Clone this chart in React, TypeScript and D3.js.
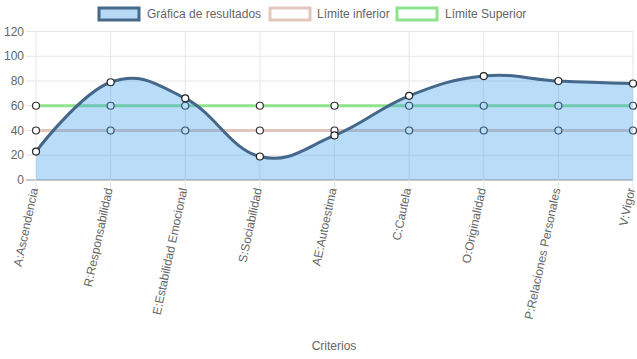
import React from "react";
import * as d3 from "d3";

const categories = [
  "A:Ascendencia",
  "R:Responsabilidad",
  "E:Estabilidad Emocional",
  "S:Sociabilidad",
  "AE:Autoestima",
  "C:Cautela",
  "O:Originalidad",
  "P:Relaciones Personales",
  "V:Vigor",
];
const resultados = [23, 79, 66, 19, 36, 68, 84, 80, 78];
const limiteInferior = [40, 40, 40, 40, 40, 40, 40, 40, 40];
const limiteSuperior = [60, 60, 60, 60, 60, 60, 60, 60, 60];
const yTicks = [0, 20, 40, 60, 80, 100, 120];

const W = 637;
const H = 359;
const font = "'Liberation Sans', Arial, Helvetica, sans-serif";
const grey = "#666";

const x = d3.scalePoint().domain(categories).range([36, 633]);
const y = d3.scaleLinear().domain([0, 120]).range([180, 31.5]);

const line = d3
  .line<number>()
  .x((d, i) => x(categories[i]))
  .y((d) => y(d))
  .curve(d3.curveCardinal.tension(-0.2));

const area = d3
  .area<number>()
  .x((d, i) => x(categories[i]))
  .y0(y(0))
  .y1((d) => y(d))
  .curve(d3.curveCardinal.tension(-0.2));

const straight = d3
  .line<number>()
  .x((d, i) => x(categories[i]))
  .y((d) => y(d));

const legend = [
  { label: "Gráfica de resultados", fill: "#b8d9f5", stroke: "#46698a", bx: 99, tx: 147 },
  { label: "Límite inferior", fill: "#fff", stroke: "#e3c7bd", bx: 270, tx: 317 },
  { label: "Límite Superior", fill: "#fff", stroke: "#8ee38c", bx: 397, tx: 445 },
];

export default function App() {
  return (
    <svg width={W} height={H} style={{ position: "absolute", left: 0, top: 0 }}>
      {/* grid */}
      {yTicks.map((t) => (
        <g key={"y" + t}>
          <line
            x1={26}
            x2={633}
            y1={y(t)}
            y2={y(t)}
            stroke={t === 0 ? "#c8c8c8" : "#e6e6e6"}
            strokeWidth={t === 0 ? 2 : 1}
          />
          <text x={24} y={y(t)} dy="0.35em" textAnchor="end" fontSize={12} fill={grey} fontFamily={font}>
            {t}
          </text>
        </g>
      ))}
      {categories.map((c) => (
        <line key={"x" + c} x1={x(c)} x2={x(c)} y1={31.5} y2={190} stroke="#e6e6e6" strokeWidth={1} />
      ))}

      {/* limit lines, drawn beneath the result fill */}
      <path d={straight(limiteInferior)} fill="none" stroke="#e3c7bd" strokeWidth={3} />
      <path d={straight(limiteSuperior)} fill="none" stroke="#8ee38c" strokeWidth={3} />
      {limiteInferior.map((v, i) => (
        <circle key={"li" + i} cx={x(categories[i])} cy={y(v)} r={3.5} fill="#fff" stroke="#333" strokeWidth={1.2} />
      ))}
      {limiteSuperior.map((v, i) => (
        <circle key={"ls" + i} cx={x(categories[i])} cy={y(v)} r={3.5} fill="#fff" stroke="#333" strokeWidth={1.2} />
      ))}

      {/* results */}
      <path d={area(resultados)} fill="rgba(54,155,235,0.35)" />
      <path d={line(resultados)} fill="none" stroke="#44678a" strokeWidth={3} />
      {resultados.map((v, i) => (
        <circle key={"r" + i} cx={x(categories[i])} cy={y(v)} r={3.5} fill="#fff" stroke="#222" strokeWidth={1.2} />
      ))}

      {/* x labels */}
      {categories.map((c) => (
        <text
          key={"l" + c}
          transform={`translate(${x(c) - 2},${188}) rotate(-78)`}
          textAnchor="end"
          dy="0.35em"
          fontSize={12}
          fill={grey}
          fontFamily={font}
        >
          {c}
        </text>
      ))}
      <text x={334} y={346} dy="0.35em" textAnchor="middle" fontSize={12} fill={grey} fontFamily={font}>
        Criterios
      </text>

      {/* legend */}
      {legend.map((l) => (
        <g key={l.label}>
          <rect x={l.bx} y={8} width={40} height={12} fill={l.fill} stroke={l.stroke} strokeWidth={3} />
          <text x={l.tx} y={14} dy="0.35em" fontSize={12} fill={grey} fontFamily={font}>
            {l.label}
          </text>
        </g>
      ))}
    </svg>
  );
}
